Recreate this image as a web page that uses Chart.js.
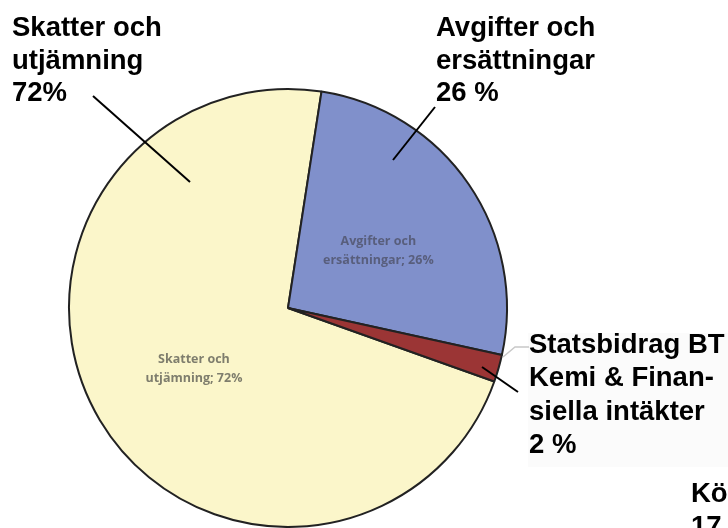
<!DOCTYPE html>
<html>
<head>
<meta charset="utf-8">
<script src="https://cdn.jsdelivr.net/npm/chart.js@4.4.1/dist/chart.umd.min.js"></script>
<style>
  html, body { margin: 0; padding: 0; background: #ffffff; }
  #wrap { width: 728px; height: 528px; position: relative; overflow: hidden; }
</style>
</head>
<body>
<div id="wrap"><canvas id="c" width="728" height="528"></canvas></div>
<script>
// ---- data ----
const categories = ["Skatter och utjämning", "Avgifter och ersättningar", "Statsbidrag BT Kemi & Finansiella intäkter"];
const shares = [72, 26, 2];
const innerLabels = [["Skatter och", "utjämning; 72%"], ["Avgifter och", "ersättningar; 26%"], null];
const calloutSkatter = ["Skatter och", "utjämning", "72%"];
const calloutAvgifter = ["Avgifter och", "ersättningar", "26 %"];
const calloutStats = ["Statsbidrag BT", "Kemi & Finan-", "siella intäkter", "2 %"];
const calloutCut = ["Kö", "17"];

const sliceColors = ["#FBF6CA", "#8090CB", "#9B3535"];

const annotations = {
  id: "annotations",
  afterDatasetsDraw(chart) {
    const ctx = chart.ctx;
    const meta = chart.getDatasetMeta(0);
    // inner labels
    ctx.save();
    ctx.font = "bold 12.5px 'Open Sans', 'Liberation Sans', sans-serif";
    ctx.textAlign = "center";
    ctx.textBaseline = "middle";
    meta.data.forEach((arc, i) => {
      const lines = innerLabels[i];
      if (!lines) return;
      const p = arc.tooltipPosition();
      ctx.fillStyle = i === 1 ? "rgba(75,78,98,0.75)" : "rgba(95,95,85,0.8)";
      lines.forEach((t, k) => ctx.fillText(t, p.x, p.y - 5 + k * 19));
    });
    ctx.restore();

    // light box behind the small-slice callout
    ctx.save();
    ctx.fillStyle = "#fbfbfb";
    ctx.fillRect(528, 333, 200, 134);
    // faint connector
    ctx.strokeStyle = "#c8c8c8";
    ctx.lineWidth = 1.5;
    ctx.beginPath();
    ctx.moveTo(503, 357);
    ctx.lineTo(515, 347);
    ctx.lineTo(529, 347);
    ctx.stroke();
    ctx.restore();

    // black leader lines
    ctx.save();
    ctx.strokeStyle = "#000";
    ctx.lineWidth = 2;
    [[93, 96, 190, 182], [435, 107, 393, 160], [482, 367, 518, 392]].forEach(l => {
      ctx.beginPath();
      ctx.moveTo(l[0], l[1]);
      ctx.lineTo(l[2], l[3]);
      ctx.stroke();
    });
    ctx.restore();

    // callout texts
    ctx.save();
    ctx.fillStyle = "#000";
    ctx.font = "bold 27.5px 'Liberation Sans', Arial, sans-serif";
    ctx.textAlign = "left";
    ctx.textBaseline = "alphabetic";
    calloutSkatter.forEach((t, k) => ctx.fillText(t, 12, 36 + k * 32.5));
    calloutAvgifter.forEach((t, k) => ctx.fillText(t, 436, 36 + k * 32.5));
    calloutStats.forEach((t, k) => ctx.fillText(t, 529, 353 + k * 33.3));
    calloutCut.forEach((t, k) => ctx.fillText(t, 691, 502 + k * 33));
    ctx.restore();
  }
};

new Chart(document.getElementById("c"), {
  type: "pie",
  data: {
    labels: categories,
    datasets: [{
      data: shares,
      backgroundColor: sliceColors,
      borderColor: "#222222",
      borderWidth: 2
    }]
  },
  options: {
    responsive: false,
    animation: false,
    rotation: 109.6,
    layout: { padding: { left: 68, right: 220, top: 88, bottom: 0 } },
    plugins: {
      legend: { display: false },
      tooltip: { enabled: false }
    }
  },
  plugins: [annotations]
});
</script>
</body>
</html>
